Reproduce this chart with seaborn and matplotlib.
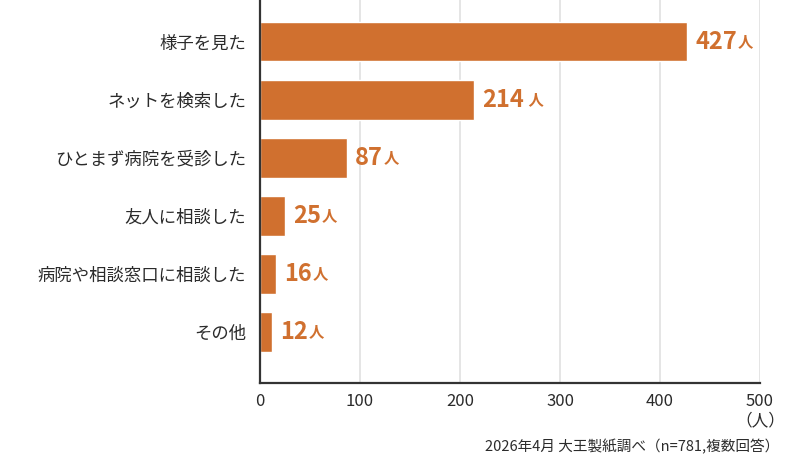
import matplotlib
matplotlib.use("Agg")
import matplotlib.pyplot as plt
import seaborn as sns
import pandas as pd

categories = ["様子を見た", "ネットを検索した", "ひとまず病院を受診した",
              "友人に相談した", "病院や相談窓口に相談した", "その他"]
counts = [427, 214, 87, 25, 16, 12]
units = ["人", " 人", "人", "人", "人", "人"]
xticks = [0, 100, 200, 300, 400, 500]
note = "2026年4月 大王製紙調べ（n=781,複数回答）"

bar_color = "#D0702F"
text_color = "#2b2b2b"

sns.set_theme(style="white")
plt.rcParams["font.family"] = ["Noto Sans CJK JP", "DejaVu Sans"]

df = pd.DataFrame({"category": categories, "count": counts})

fig = plt.figure(figsize=(8, 4.71), dpi=100)
ax = fig.add_axes([0.325, 0.187, 0.625, 0.813])

sns.barplot(data=df, x="count", y="category", orient="h", color=bar_color,
            saturation=1, width=0.68, ax=ax)

ax.set_xlim(0, 500)
ax.set_ylim(5.88, -0.72)
ax.set_xticks(xticks)
ax.set_xticklabels([str(t) for t in xticks], fontsize=12, color=text_color)
ax.tick_params(axis="x", direction="in", length=8, width=1.6, color="#333333", pad=7)
ax.tick_params(axis="y", length=0, pad=10, labelsize=12.5, labelcolor=text_color)
ax.set_xlabel("")
ax.set_ylabel("")
ax.grid(axis="x", color="#e0e0e0", linewidth=1.2)
ax.set_axisbelow(True)
for s in ["top", "right"]:
    ax.spines[s].set_visible(False)
for s in ["left", "bottom"]:
    ax.spines[s].set_color("#333333")
    ax.spines[s].set_linewidth(1.6)

for i, (v, u) in enumerate(zip(counts, units)):
    t = ax.annotate(str(v), xy=(v, i), xytext=(6, 0), textcoords="offset points",
                    va="center", ha="left", fontsize=17, fontweight="bold",
                    color=bar_color)
    ax.annotate(u, xy=(1, 0.2), xycoords=t, xytext=(0.5, 0), textcoords="offset points",
                va="bottom", ha="left", fontsize=11, fontweight="bold",
                color=bar_color)

fig.text(760 / 800, 1 - 421 / 471, "（人）", ha="center", va="center",
         fontsize=12, color=text_color)
fig.text(779 / 800, 1 - 447 / 471, note, ha="right", va="center",
         fontsize=10.5, color=text_color)

fig.savefig("out.png", dpi=100)
